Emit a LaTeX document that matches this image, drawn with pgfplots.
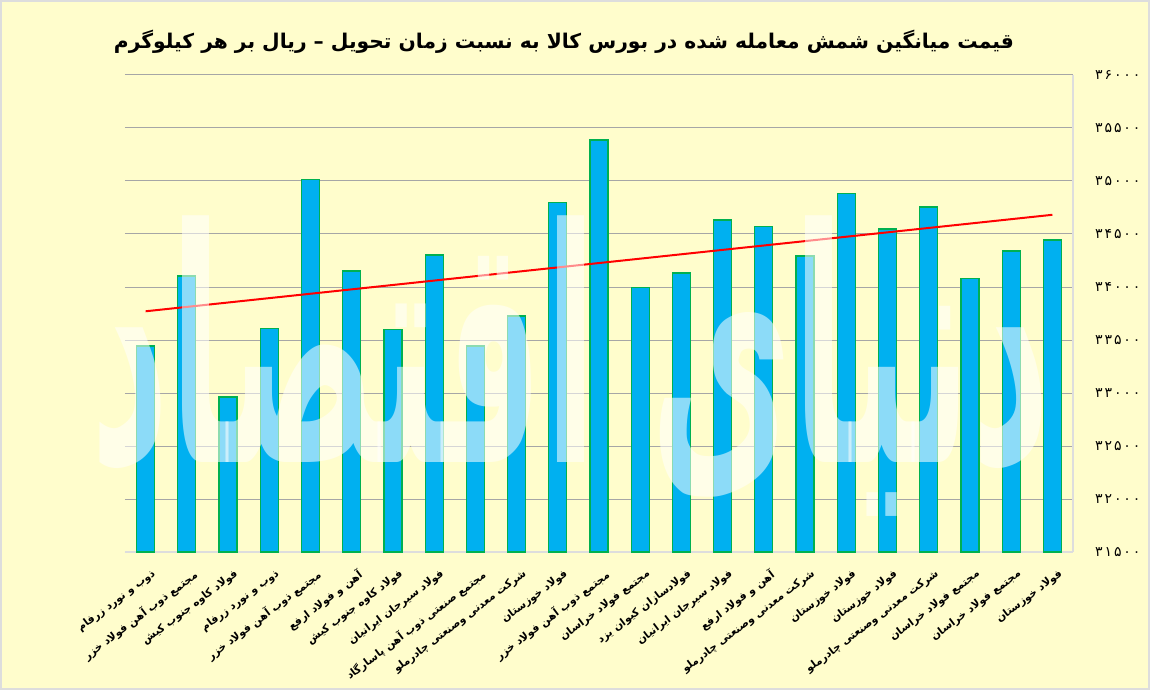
\documentclass[border=0pt]{standalone}
\usepackage{graphicx}
\usepackage{pgfplots}
\pgfplotsset{compat=1.18}
\usepackage{pgfplotstable}
\usepackage{fontspec}
\setmainfont{DejaVu Sans}
\newfontfamily\arabicfont[Script=Arabic]{DejaVu Sans}
\newfontfamily\digitfont[LetterSpace=14]{DejaVu Sans}
\TeXXeTstate=1
\definecolor{bg}{HTML}{FFFDCC}
\definecolor{barblue}{HTML}{00B0F0}
\definecolor{bargreen}{HTML}{00B050}
\definecolor{gridgray}{HTML}{A6A6A6}
\definecolor{axgray}{HTML}{DDDDDD}

\pgfplotstableread{
x y
0 33443
1 34104
2 32962
3 33607
4 35013
5 34151
6 33597
7 34302
8 33443
9 33726
10 34795
11 35387
12 33993
13 34132
14 34632
15 34572
16 34292
17 34883
18 34547
19 34755
20 34081
21 34340
22 34443
}\data

\begin{document}
\begin{tikzpicture}
\fill[bg] (0,0) rectangle (862.5pt,517.5pt);
\draw[axgray, line width=1.2pt] (0.6pt,0.6pt) rectangle (861.9pt,516.9pt);
\node[font=\arabicfont\bfseries\fontsize{15.2}{17}\selectfont, anchor=center] at (423pt,486pt) {\beginR قیمت میانگین شمش معامله شده در بورس کالا به نسبت زمان تحویل – ریال بر هر کیلوگرم\endR};
\begin{axis}[
  at={(93.75pt,103.5pt)}, anchor=south west,
  scale only axis, width=711pt, height=357.75pt,
  xmin=-0.5, xmax=22.5, ymin=31500, ymax=36000,
  scaled y ticks=false,
  axis x line*=bottom, axis y line*=right,
  axis line style={draw=axgray, line width=0.9pt, -},
  ymajorgrids, grid style={gridgray, line width=0.75pt},
  major tick length=0pt,
  ytick={31500,32000,32500,33000,33500,34000,34500,35000,35500,36000},
  yticklabels={۳۱۵۰۰,۳۲۰۰۰,۳۲۵۰۰,۳۳۰۰۰,۳۳۵۰۰,۳۴۰۰۰,۳۴۵۰۰,۳۵۰۰۰,۳۵۵۰۰,۳۶۰۰۰},
  yticklabel style={font=\digitfont\fontsize{10.5}{12}\selectfont, anchor=west, xshift=13pt},
  xtick={0,...,22},
  xticklabels={
    {\beginR ذوب و نورد زرفام\endR},
    {\beginR مجتمع ذوب آهن فولاد خزر\endR},
    {\beginR فولاد کاوه جنوب کیش\endR},
    {\beginR ذوب و نورد زرفام\endR},
    {\beginR مجتمع ذوب آهن فولاد خزر\endR},
    {\beginR آهن و فولاد ارفع\endR},
    {\beginR فولاد کاوه جنوب کیش\endR},
    {\beginR فولاد سیرجان ایرانیان\endR},
    {\beginR مجتمع صنعتی ذوب آهن پاسارگاد\endR},
    {\beginR شرکت معدنی وصنعتی چادرملو\endR},
    {\beginR فولاد خوزستان\endR},
    {\beginR مجتمع ذوب آهن فولاد خزر\endR},
    {\beginR مجتمع فولاد خراسان\endR},
    {\beginR فولادسازان کیوان یزد\endR},
    {\beginR فولاد سیرجان ایرانیان\endR},
    {\beginR آهن و فولاد ارفع\endR},
    {\beginR شرکت معدنی وصنعتی چادرملو\endR},
    {\beginR فولاد خوزستان\endR},
    {\beginR فولاد خوزستان\endR},
    {\beginR شرکت معدنی وصنعتی چادرملو\endR},
    {\beginR مجتمع فولاد خراسان\endR},
    {\beginR مجتمع فولاد خراسان\endR},
    {\beginR فولاد خوزستان\endR}
  },
  xticklabel style={font=\arabicfont\bfseries\fontsize{8}{10}\selectfont, rotate=37, anchor=north east, inner sep=0pt, yshift=-12pt, xshift=-4pt},
  clip=false,
]
\addplot[ybar, bar width=13.5pt, fill=barblue, draw=bargreen, line width=0.9pt] table[x=x,y=y]{\data};
\addplot[red, line width=1.5pt, no marks] table[x=x, y={create col/linear regression={y=y}}]{\data};
\end{axis}
\node[text=white, text opacity=0.55, font=\arabicfont\bfseries, inner sep=0pt] at (428pt,243pt) {\resizebox{720pt}{185pt}{\beginR دنیای اقتصاد\endR}};
\pgfresetboundingbox
\path[use as bounding box] (0,0) rectangle (862.5pt,517.5pt);
\end{tikzpicture}
\end{document}
